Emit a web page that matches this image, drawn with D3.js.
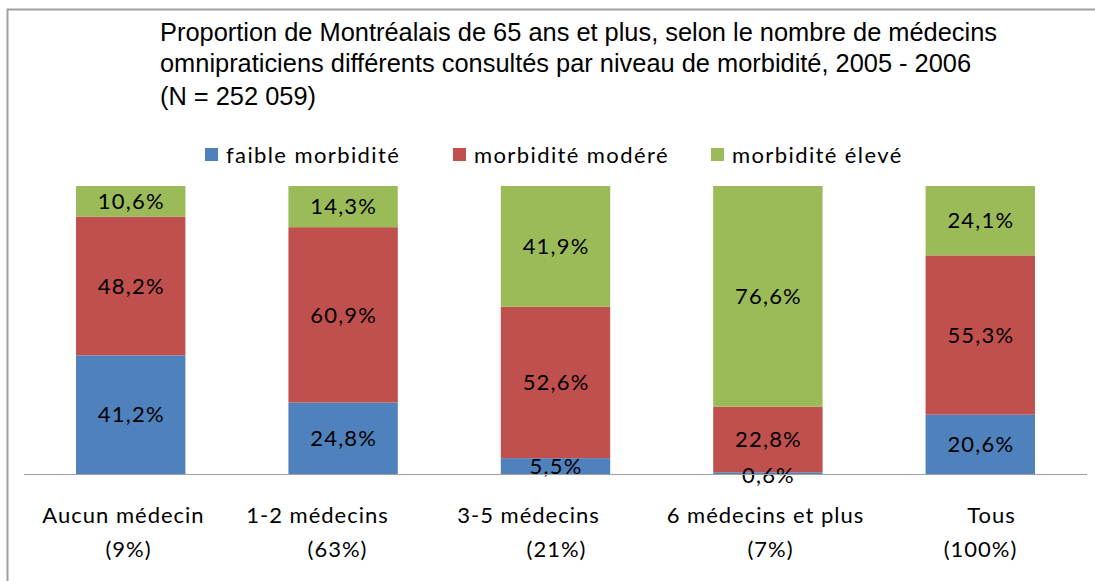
<!DOCTYPE html>
<html><head><meta charset="utf-8">
<script src="https://cdn.jsdelivr.net/npm/d3@7"></script>
<style>body{margin:0;background:#fff}svg{display:block}</style>
</head><body>
<svg id="c" width="1095" height="581"></svg>
<script>
const categories = ["Aucun médecin", "1-2 médecins", "3-5 médecins", "6 médecins et plus", "Tous"];
const categoryShares = ["(9%)", "(63%)", "(21%)", "(7%)", "(100%)"];
const seriesNames = ["faible morbidité", "morbidité modéré", "morbidité élevé"];
const faible = [41.2, 24.8, 5.5, 0.6, 20.6];
const modere = [48.2, 60.9, 52.6, 22.8, 55.3];
const eleve = [10.6, 14.3, 41.9, 76.6, 24.1];
const titleLines = ["Proportion de Montréalais de 65 ans et plus, selon le nombre de médecins",
  "omnipraticiens différents consultés par niveau de morbidité, 2005 - 2006",
  "(N = 252 059)"];
const colors = ["#4F81BD", "#C0504D", "#9BBB59"];

const svg = d3.select("#c");
const W = 1095, H = 581;
const calibri = "Lato, 'Open Sans', sans-serif";

// outer border
svg.append("path").attr("d", `M7.5,${H} V9.5 H${W}`).attr("fill", "none").attr("stroke", "#a0a0a0").attr("stroke-width", 2);

// title
svg.append("g").selectAll("text").data(titleLines).join("text")
  .attr("x", 160).attr("y", (d, i) => [41, 72, 105][i])
  .attr("font-family", "'Liberation Sans', Arial, sans-serif").attr("font-size", 25.4)
  .attr("fill", "#000").text(d => d);

// scales
const plotLeft = 24, plotRight = 1087;
const x = d3.scaleBand().domain(categories).range([plotLeft, plotRight]).paddingInner(0.485).paddingOuter(0.245);
const y = d3.scaleLinear().domain([0, 100]).range([474, 186]);

const rows = categories.map((c, i) => ({cat: c, faible: faible[i], modere: modere[i], eleve: eleve[i]}));
const stack = d3.stack().keys(["faible", "modere", "eleve"])(rows);

const g = svg.append("g");
stack.forEach((layer, li) => {
  g.append("g").attr("fill", colors[li]).selectAll("rect").data(layer).join("rect")
    .attr("x", d => x(d.data.cat)).attr("width", x.bandwidth())
    .attr("y", d => y(d[1])).attr("height", d => y(d[0]) - y(d[1]));
});

// baseline
svg.append("line").attr("x1", plotLeft).attr("x2", plotRight).attr("y1", y(0) + 0.5).attr("y2", y(0) + 0.5)
  .attr("stroke", "#a0a0a0").attr("stroke-width", 1.2);

// data labels
stack.forEach((layer, li) => {
  g.append("g").selectAll("text").data(layer).join("text")
    .attr("x", d => x(d.data.cat) + x.bandwidth() / 2 + 0.6)
    .attr("y", d => (y(d[0]) + y(d[1])) / 2 + (d[1] - d[0] < 2 ? 2 : 0))
    .attr("dy", "0.35em").attr("text-anchor", "middle")
    .attr("font-family", calibri).attr("font-size", 22).attr("letter-spacing", 1.2).attr("fill", "#000")
    .text(d => d3.format(".1f")(d[1] - d[0]).replace(".", ",") + "%");
});

// category labels (axis)
const axis = d3.axisBottom(x).tickSize(0).tickFormat("");
svg.append("g").attr("transform", `translate(0,${y(0)})`).call(axis).call(s => s.select(".domain").remove());
const line1Center = [123, 317, 528, 765, 991];
const line2Center = [128, 337, 556, 770, 980];
categories.forEach((c, i) => {
  svg.append("text").attr("x", line1Center[i] + 0.5).attr("y", 523).attr("text-anchor", "middle")
    .attr("font-family", calibri).attr("font-size", 22).attr("letter-spacing", 1.0).attr("fill", "#000").text(c);
  svg.append("text").attr("x", line2Center[i] + 0.5).attr("y", 557).attr("text-anchor", "middle")
    .attr("font-family", calibri).attr("font-size", 22).attr("letter-spacing", 1.0).attr("fill", "#000").text(categoryShares[i]);
});

// legend
const legendX = [205, 453, 711];
const lg = svg.append("g");
seriesNames.forEach((n, i) => {
  lg.append("rect").attr("x", legendX[i]).attr("y", 148).attr("width", 13).attr("height", 13).attr("fill", colors[i]);
  lg.append("text").attr("x", legendX[i] + 21).attr("y", 155).attr("dy", "0.35em")
    .attr("font-family", calibri).attr("font-size", 22).attr("letter-spacing", 1.4).attr("fill", "#000").text(n);
});
</script>
</body></html>
